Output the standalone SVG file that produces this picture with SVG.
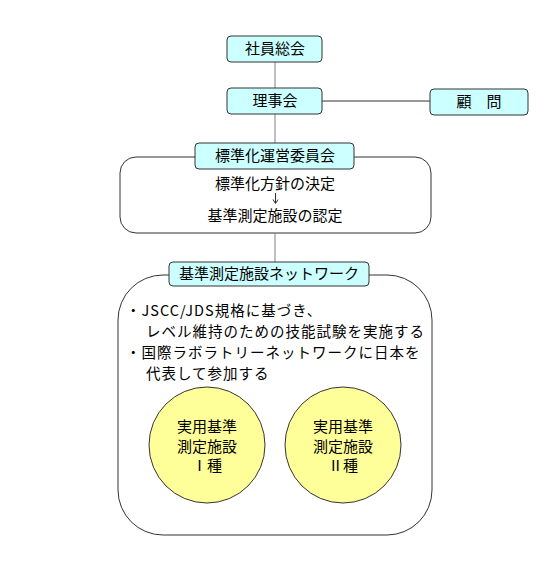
<svg xmlns="http://www.w3.org/2000/svg" width="546" height="579" viewBox="0 0 546 579">
<style>
text{font-family:"Noto Sans CJK JP","Liberation Sans",sans-serif;fill:#000;}
.box{fill:#ccffff;stroke:#333;stroke-width:1;}
.frame{fill:#fff;stroke:#333;stroke-width:1;}
.circ{fill:#ffff99;stroke:#333;stroke-width:1;}
.ln{stroke:#808080;stroke-width:1;fill:none;}
.ln2{stroke:#333;stroke-width:1;fill:none;}
.t{font-size:15px;text-anchor:middle;}
.b{font-size:14.5px;letter-spacing:1px;}
</style>
<rect width="546" height="579" fill="#fff"/>
<g id="committee-frame">
<rect class="frame" x="120" y="157" width="311" height="76" rx="16"/>
<text class="t" x="275" y="189">標準化方針の決定</text>
<text class="t" x="275" y="221">基準測定施設の認定</text>
</g>
<g id="network-frame">
<rect class="frame" x="118" y="275" width="314" height="260" rx="45"/>
<text class="b" x="126" y="316">・JSCC/JDS規格に基づき、</text>
<text class="b" x="146" y="337">レベル維持のための技能試験を実施する</text>
<text class="b" x="126" y="358">・国際ラボラトリーネットワークに日本を</text>
<text class="b" x="146" y="379">代表して参加する</text>
</g>
<g id="connectors">
<line class="ln" x1="275" y1="62" x2="275" y2="88"/>
<line class="ln" x1="275" y1="114" x2="275" y2="143"/>
<line class="ln2" x1="322" y1="101" x2="430" y2="101"/>
<line class="ln" x1="275" y1="233" x2="275" y2="262"/>
<line class="ln2" x1="275.5" y1="193" x2="275.5" y2="203"/>
<path class="ln2" d="M273,199.5 L275.5,203.5 L278,199.5"/>
</g>
<g id="n-general">
<rect class="box" x="227" y="36" width="95" height="26" rx="4"/>
<text class="t" x="275" y="54">社員総会</text>
</g>
<g id="n-board">
<rect class="box" x="227" y="88" width="95" height="26" rx="4"/>
<text class="t" x="275" y="106">理事会</text>
</g>
<g id="n-advisor">
<rect class="box" x="430" y="89" width="98" height="26" rx="4"/>
<text class="t" x="479" y="107">顧　問</text>
</g>
<g id="n-committee">
<rect class="box" x="195" y="143" width="159" height="26" rx="4"/>
<text class="t" x="275" y="161">標準化運営委員会</text>
</g>
<g id="n-network">
<rect class="box" x="169" y="262" width="200" height="24" rx="4"/>
<text class="t" x="269" y="279">基準測定施設ネットワーク</text>
</g>
<g id="n-type1">
<circle class="circ" cx="207" cy="445" r="58"/>
<text class="t" x="207" y="432">実用基準</text>
<text class="t" x="207" y="452">測定施設</text>
<text class="t" x="207" y="471">Ⅰ種</text>
</g>
<g id="n-type2">
<circle class="circ" cx="343" cy="445" r="58"/>
<text class="t" x="343" y="432">実用基準</text>
<text class="t" x="343" y="452">測定施設</text>
<text class="t" x="343" y="471">Ⅱ種</text>
</g>
</svg>
